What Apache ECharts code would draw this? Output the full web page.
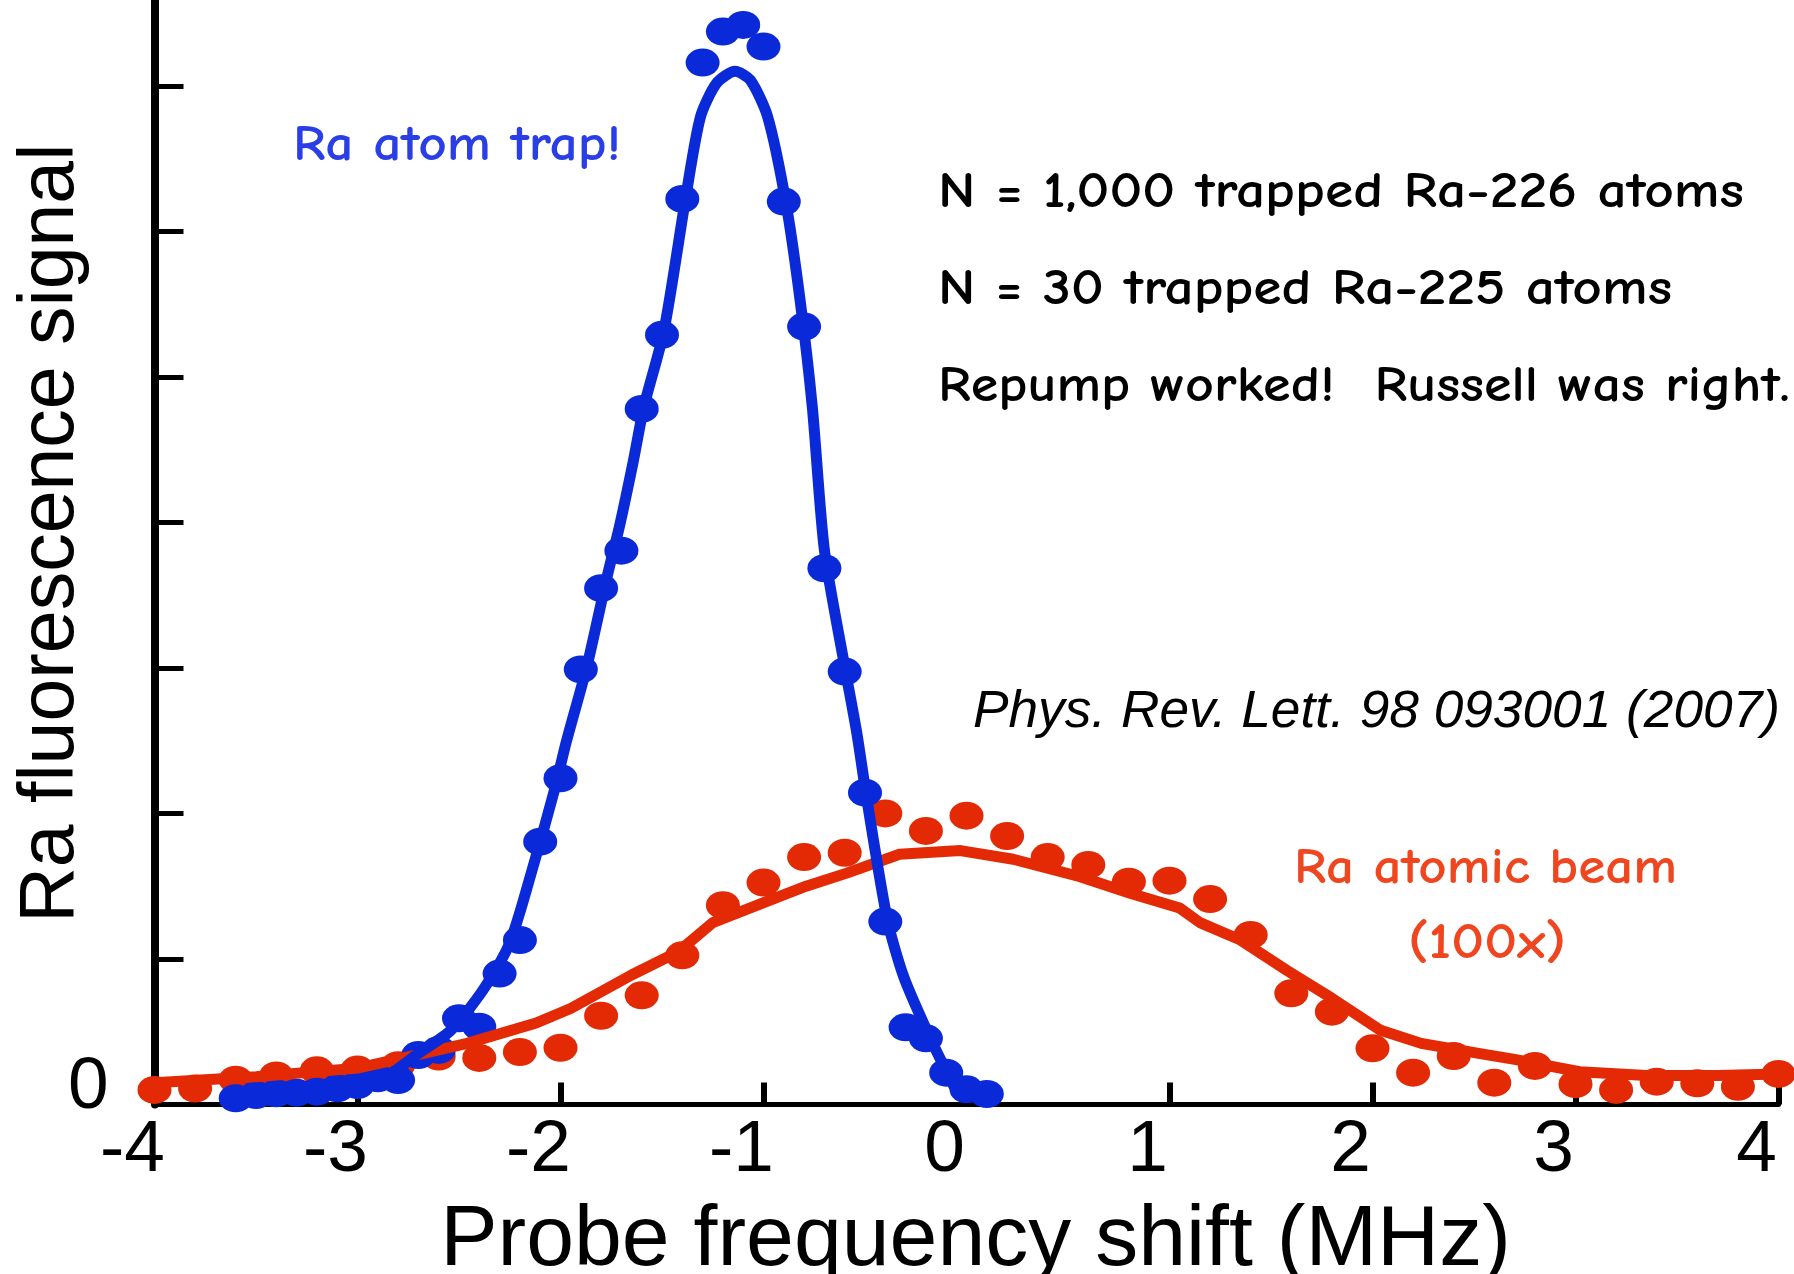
<!DOCTYPE html>
<html>
<head>
<meta charset="utf-8">
<script src="https://cdn.jsdelivr.net/npm/echarts@6/dist/echarts.min.js"></script>
<style>
html,body{margin:0;padding:0;background:#ffffff;}
#chart{width:1794px;height:1274px;}
</style>
</head>
<body>
<div id="chart"></div>
<script>
// ---------- axis ticks ----------
const xTickValues = [-4, -3, -2, -1, 0, 1, 2, 3, 4];
const xTickLabels = ['-4', '-3', '-2', '-1', '0', '1', '2', '3', '4'];
const yTickValues = [1, 2, 3, 4, 5, 6, 7];
const yTickLabelValues = [0];
const yTickLabels = ['0'];

// ---------- Ra atom trap (blue) measured points ----------
const trapFreq = [-3.6, -3.5, -3.4, -3.3, -3.2, -3.1, -3.0, -2.9, -2.8, -2.7,
                  -2.6, -2.5, -2.4, -2.3, -2.2, -2.1, -2.0, -1.9, -1.8, -1.7,
                  -1.6, -1.5, -1.4, -1.3, -1.2, -1.1, -1.0, -0.9, -0.8, -0.7,
                  -0.6, -0.5, -0.4, -0.3, -0.2, -0.1, 0.0, 0.1];
const trapSignal = [0.043, 0.065, 0.077, 0.081, 0.088, 0.111, 0.134, 0.18, 0.168, 0.34,
                    0.375, 0.592, 0.535, 0.90, 1.13, 1.806, 2.242, 2.99, 3.548, 3.806,
                    4.78, 5.289, 6.223, 7.16, 7.373, 7.419, 7.27, 6.205, 5.346, 3.685,
                    2.975, 2.143, 1.257, 0.53, 0.455, 0.219, 0.104, 0.072];

// ---------- Ra atom trap fit curve ----------
const trapFitFreq = [-3.6, -3.3, -3.0, -2.85, -2.7, -2.54, -2.38, -2.25, -2.13, -2.03,
                     -1.97, -1.87, -1.77, -1.71, -1.64, -1.59, -1.49, -1.38, -1.31, -1.23,
                     -1.14, -1.065, -0.98, -0.89, -0.82, -0.76, -0.70, -0.60, -0.54, -0.49,
                     -0.39, -0.31, -0.19, -0.11, -0.05, 0.0];
const trapFitSignal = [0.05, 0.08, 0.13, 0.2, 0.35, 0.51, 0.79, 1.11, 1.66, 2.16,
                       2.5, 3.01, 3.63, 3.97, 4.43, 4.79, 5.32, 6.26, 6.79, 7.02,
                       7.1, 7.04, 6.79, 6.2, 5.53, 4.8, 3.81, 3.01, 2.55, 2.09,
                       1.27, 0.88, 0.49, 0.26, 0.1, 0.05];

// ---------- Ra atomic beam (red, 100x) measured points ----------
const beamFreq = [-4.0, -3.8, -3.6, -3.4, -3.2, -3.0, -2.8, -2.6, -2.4, -2.2,
                  -2.0, -1.8, -1.6, -1.4, -1.2, -1.0, -0.8, -0.6, -0.4, -0.2,
                  0.0, 0.2, 0.4, 0.6, 0.8, 1.0, 1.2, 1.4, 1.6, 1.8,
                  2.0, 2.2, 2.4, 2.6, 2.8, 3.0, 3.2, 3.4, 3.6, 3.8, 4.0];
const beamSignal = [0.10, 0.11, 0.17, 0.20, 0.235, 0.24, 0.27, 0.33, 0.32, 0.36,
                    0.39, 0.61, 0.75, 1.025, 1.37, 1.525, 1.70, 1.73, 2.00, 1.88,
                    1.985, 1.845, 1.70, 1.646, 1.531, 1.538, 1.412, 1.165, 0.764, 0.638,
                    0.386, 0.219, 0.333, 0.15, 0.265, 0.14, 0.10, 0.157, 0.146, 0.122, 0.21];

// ---------- Ra atomic beam fit curve ----------
const beamFitFreq = [-4.0, -3.5, -3.0, -2.74, -2.46, -2.12, -1.95, -1.65, -1.42, -1.25,
                     -0.92, -0.79, -0.59, -0.33, -0.03, 0.23, 0.56, 0.81, 1.05, 1.15,
                     1.35, 1.58, 1.8, 2.04, 2.24, 2.53, 2.7, 3.02, 3.35, 3.7, 4.0];
const beamFitSignal = [0.15, 0.19, 0.25, 0.33, 0.42, 0.56, 0.66, 0.89, 1.05, 1.25,
                       1.43, 1.50, 1.59, 1.72, 1.745, 1.685, 1.565, 1.45, 1.35, 1.25,
                       1.13, 0.92, 0.73, 0.51, 0.42, 0.35, 0.31, 0.225, 0.2, 0.2, 0.21];

// ---------- annotation texts ----------
const annotationTexts = [
  'Ra atom trap!',
  'N = 1,000 trapped Ra-226 atoms',
  'N = 30 trapped Ra-225 atoms',
  'Repump worked!  Russell was right.',
  'Phys. Rev. Lett. 98 093001 (2007)',
  'Ra atomic beam',
  '(100x)'
];

const BLUE = '#0a2ad9';
const RED = '#e32a05';
const BLUE_TEXT = '#2a3ee6';
const RED_TEXT = '#ef4620';
const COMIC = "'Comic Sans MS', 'Comic Neue', 'Open Sans', sans-serif";
const HELV = "'Liberation Sans', Arial, Helvetica, sans-serif";

function zip(xs, ys) { return xs.map((x, i) => [x, ys[i]]); }

// layout of the annotations: left edge, vertical centre of capitals, target width
const annLayout = [
  { left: 293,  cy: 146, width: 328, size: 50, family: COMIC, color: BLUE_TEXT, italic: false, weight: 600 },
  { left: 938,  cy: 193, width: 806, size: 50, family: COMIC, color: '#000000', italic: false, weight: 600 },
  { left: 938,  cy: 290, width: 734, size: 50, family: COMIC, color: '#000000', italic: false, weight: 600 },
  { left: 938,  cy: 387, width: 852, size: 50, family: COMIC, color: '#000000', italic: false, weight: 600 },
  { left: 973,  cy: 713, width: 807, size: 51, family: HELV,  color: '#000000', italic: true,  weight: 400 },
  { left: 1294, cy: 869, width: 383, size: 50, family: COMIC, color: RED_TEXT, italic: false, weight: 600 },
  { left: 1408, cy: 944, width: 158, size: 50, family: COMIC, color: RED_TEXT, italic: false, weight: 600 }
];

const measureCtx = document.createElement('canvas').getContext('2d');
function makeText(text, L) {
  measureCtx.font = (L.italic ? 'italic ' : 'normal ') + L.weight + ' ' + L.size + 'px ' + L.family;
  const w = measureCtx.measureText(text).width || 1;
  return {
    type: 'text',
    x: L.left,
    y: L.cy,
    scaleX: L.width / w,
    scaleY: 1,
    z: 100,
    style: {
      text: text,
      fontSize: L.size,
      fontFamily: L.family,
      fontWeight: L.weight,
      fontStyle: L.italic ? 'italic' : 'normal',
      fill: L.color,
      textAlign: 'left',
      textVerticalAlign: 'middle',
      align: 'left',
      verticalAlign: 'middle'
    }
  };
}

const chart = echarts.init(document.getElementById('chart'), null, { renderer: 'canvas' });

const option = {
  backgroundColor: '#ffffff',
  animation: false,
  grid: { left: 154.5, right: 15.5, top: 0, bottom: 169.5, containLabel: false, outerBoundsMode: 'none' },
  xAxis: {
    type: 'value',
    min: -4,
    max: 4,
    interval: 1,
    name: 'Probe frequency shift (MHz)',
    nameLocation: 'middle',
    nameGap: 94,
    nameMoveOverlap: false,
    nameTextStyle: { fontFamily: HELV, fontSize: 86, color: '#000000', padding: [0, 0, 0, 18] },
    axisLine: { show: true, onZero: false, lineStyle: { color: '#000000', width: 5 } },
    axisTick: { show: true, inside: true, length: 22, lineStyle: { color: '#000000', width: 6 } },
    axisLabel: {
      margin: 10,
      fontFamily: HELV,
      fontSize: 73,
      color: '#000000',
      padding: [0, 44, 0, 0],
      formatter: function (v) {
        const i = xTickValues.indexOf(Math.round(v));
        return i >= 0 ? xTickLabels[i] : '';
      }
    },
    splitLine: { show: false }
  },
  yAxis: {
    type: 'value',
    min: 0,
    max: 7.59,
    interval: 1,
    name: 'Ra fluorescence signal',
    nameLocation: 'middle',
    nameGap: 64,
    nameMoveOverlap: false,
    nameTextStyle: { fontFamily: HELV, fontSize: 77, color: '#000000', padding: [0, 0, 0, 38] },
    axisLine: { show: true, onZero: false, lineStyle: { color: '#000000', width: 8 } },
    axisTick: { show: true, inside: true, length: 29, customValues: yTickValues,
                lineStyle: { color: '#000000', width: 5 } },
    axisLabel: {
      show: true,
      customValues: yTickLabelValues,
      margin: 46,
      fontFamily: HELV,
      fontSize: 73,
      lineHeight: 34,
      verticalAlign: 'bottom',
      color: '#000000',
      formatter: function (v) {
        const i = yTickLabelValues.indexOf(Math.round(v));
        return i >= 0 ? yTickLabels[i] : '';
      }
    },
    splitLine: { show: false }
  },
  series: [
    {
      name: 'Ra atomic beam fit',
      type: 'line',
      data: zip(beamFitFreq, beamFitSignal),
      showSymbol: false,
      smooth: false,
      clip: false,
      lineStyle: { color: RED, width: 11, cap: 'round', join: 'round' },
      itemStyle: { color: RED }
    },
    {
      name: 'Ra atom trap fit',
      type: 'line',
      data: zip(trapFitFreq, trapFitSignal),
      showSymbol: false,
      smooth: 0.25,
      clip: false,
      lineStyle: { color: BLUE, width: 11, cap: 'round', join: 'round' },
      itemStyle: { color: BLUE }
    },
    {
      name: 'Ra atomic beam (100x)',
      type: 'scatter',
      data: zip(beamFreq, beamSignal),
      symbol: 'circle',
      symbolSize: [34, 28],
      clip: false,
      itemStyle: { color: RED, opacity: 1 }
    },
    {
      name: 'Ra atom trap',
      type: 'scatter',
      data: zip(trapFreq, trapSignal),
      symbol: 'circle',
      symbolSize: [34, 28],
      clip: false,
      itemStyle: { color: BLUE, opacity: 1 }
    }
  ],
  graphic: annotationTexts.map((t, i) => makeText(t, annLayout[i]))
};

chart.setOption(option);
</script>
</body>
</html>
